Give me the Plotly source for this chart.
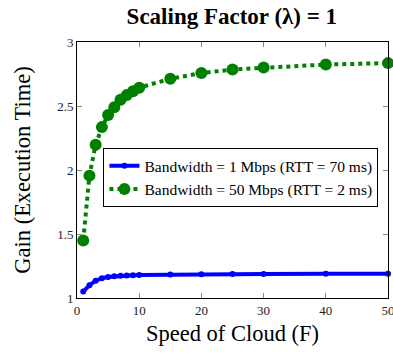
import plotly.graph_objects as go

speed = [1, 2, 3, 4, 5, 6, 7, 8, 9, 10, 15, 20, 25, 30, 40, 50]
gain_1mbps = [1.05, 1.10, 1.135, 1.155, 1.164, 1.169, 1.173, 1.176, 1.178, 1.180, 1.183, 1.185, 1.187, 1.188, 1.189, 1.190]
gain_50mbps = [1.45, 1.956, 2.198, 2.335, 2.429, 2.49, 2.549, 2.585, 2.616, 2.643, 2.713, 2.757, 2.785, 2.80, 2.824, 2.835]

serif = "Liberation Serif"

fig = go.Figure()
fig.add_trace(go.Scatter(
    x=speed, y=gain_1mbps, mode="lines+markers",
    name="Bandwidth = 1 Mbps (RTT = 70 ms)",
    line=dict(color="#0000ff", width=4),
    marker=dict(color="#0000ff", size=6, symbol="circle"),
    cliponaxis=False,
))
fig.add_trace(go.Scatter(
    x=speed, y=gain_50mbps, mode="lines+markers",
    name="Bandwidth = 50 Mbps (RTT = 2 ms)",
    line=dict(color="#008000", width=4, dash="dot"),
    marker=dict(color="#008000", size=12, symbol="circle"),
    cliponaxis=False,
))

axis_common = dict(
    showline=True, linecolor="black", linewidth=1, mirror="ticks",
    ticks="inside", ticklen=5, tickcolor="#888888",
    showgrid=False, zeroline=False, ticklabeloverflow="allow",
    tickfont=dict(family=serif, size=13, color="#222"),
)
fig.update_layout(
    width=393, height=354,
    margin=dict(l=77, r=5, t=42, b=56),
    paper_bgcolor="white", plot_bgcolor="white",
    title=dict(text="<b>Scaling Factor (λ) = 1</b>", x=0.59, xanchor="center", y=0.955, yanchor="middle",
               font=dict(family=serif, size=23, color="black")),
    xaxis=dict(range=[0, 50], tickvals=[0, 10, 20, 30, 40, 50],
               title=dict(text="Speed of Cloud (F)", font=dict(family=serif, size=22.5, color="black"), standoff=8),
               automargin=False, **axis_common),
    yaxis=dict(range=[1, 3], tickvals=[1, 1.5, 2, 2.5, 3], ticktext=["1", "1.5", "2", "2.5", "3"],
               title=dict(text="Gain (Execution Time)", font=dict(family=serif, size=22.5, color="black"), standoff=20),
               automargin=False, **axis_common),
    legend=dict(x=0.085, y=0.585, xanchor="left", yanchor="top",
                bordercolor="black", borderwidth=1, bgcolor="white",
                font=dict(family=serif, size=15.5, color="black"),
                tracegroupgap=0, itemwidth=30),
    showlegend=True,
)
fig.write_html("out.html", config={"displayModeBar": False},
               post_script="document.body.style.margin='0';document.body.style.overflow='hidden';")
